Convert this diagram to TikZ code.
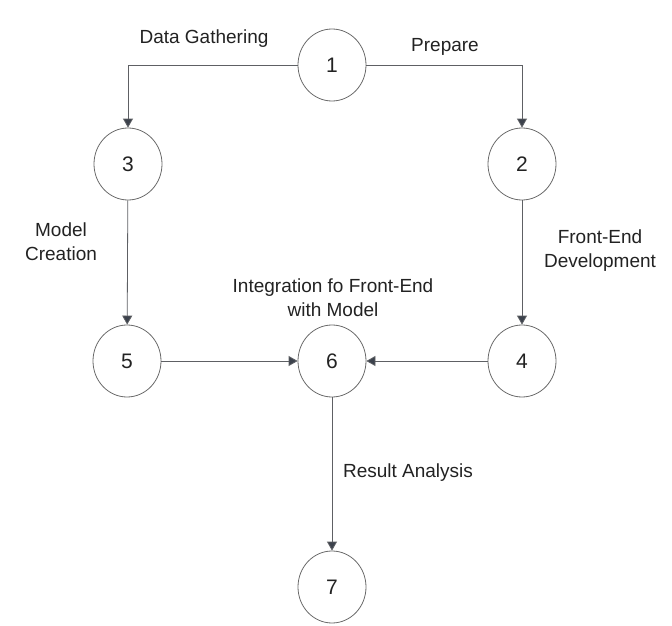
\documentclass[tikz,border=0pt]{standalone}
\usepackage{fontspec}
\setmainfont{Liberation Sans}
\usetikzlibrary{arrows.meta,shapes.geometric}
\definecolor{linec}{HTML}{5E6064}
\definecolor{tipc}{HTML}{3C424C}
\definecolor{ringc}{HTML}{6A6A6A}
\definecolor{txtc}{HTML}{222222}
\begin{document}
\begin{tikzpicture}[x=1pt,y=-1pt,
  stage/.style={ellipse,draw=ringc,line width=0.8pt,minimum width=68pt,minimum height=72pt,inner sep=0pt,
    font=\fontsize{21}{24}\selectfont,text=txtc},
  lbl/.style={font=\fontsize{19}{23.5}\selectfont,text=txtc,inner sep=0pt,align=center,anchor=base},
  conn/.style={draw=linec,line width=0.8pt,-{Triangle[width=10pt,length=9pt,fill=tipc]}}]
\useasboundingbox (0,0) rectangle (672,626);
\node[stage] (n1) at (332,65) {1};
\node[stage] (n3) at (128,164) {3};
\node[stage] (n2) at (522,164) {2};
\node[stage] (n5) at (127,361) {5};
\node[stage] (n6) at (332,361) {6};
\node[stage] (n4) at (522,361) {4};
\node[stage] (n7) at (332,587) {7};
\draw[conn] (n1.west) -| (n3.north);
\draw[conn] (n1.east) -| (n2.north);
\draw[conn] (n3) -- (n5);
\draw[conn] (n2) -- (n4);
\draw[conn] (n5) -- (n6);
\draw[conn] (n4) -- (n6);
\draw[conn] (n6) -- (n7);
\node[lbl] (l1) at (204,44) {Data Gathering};
\node[lbl] (l2) at (445,52) {Prepare};
\node[lbl] (l3) at (61,260) {Model\\Creation};
\node[lbl] (l4) at (600,267) {Front-End\\Development};
\node[lbl] (l5) at (333,316) {Integration fo Front-End\\with Model};
\node[lbl] (l6) at (408,477) {Result Analysis};
\end{tikzpicture}
\end{document}
